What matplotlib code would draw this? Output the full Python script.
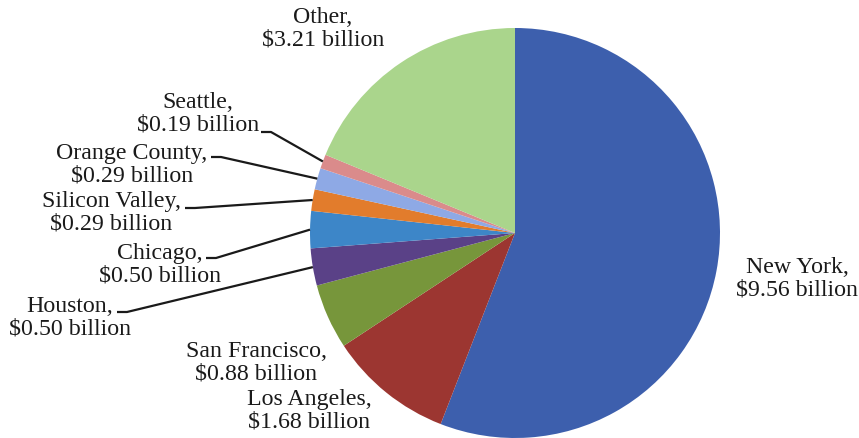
import numpy as np
import matplotlib
matplotlib.use('Agg')
import matplotlib.pyplot as plt

# data
cities = ['New York', 'Los Angeles', 'San Francisco', 'Houston', 'Chicago',
          'Silicon Valley', 'Orange County', 'Seattle', 'Other']
values = [9.56, 1.68, 0.88, 0.50, 0.50, 0.29, 0.29, 0.19, 3.21]
colors = ['#3D5FAD', '#9C3631', '#77963B', '#5A4187', '#3D86C8',
          '#E27C2C', '#8EA9E5', '#DA8B8B', '#AAD58C']

W, H = 859, 438
# label centres (pixel coords, y from top)
label_pos = {
    'New York': (797, 279),
    'Los Angeles': (309, 411),
    'San Francisco': (256, 363),
    'Houston': (70, 318),
    'Chicago': (160, 265),
    'Silicon Valley': (111, 213),
    'Orange County': (132, 165),
    'Seattle': (198, 114),
    'Other': (323, 29),
}
# where the leader line leaves the label (pixel coords, y from top)
leader_start = {
    'Seattle': (261, 132),
    'Orange County': (211, 157),
    'Silicon Valley': (185, 208),
    'Chicago': (206, 258),
    'Houston': (117, 312),
}

plt.rcParams['font.family'] = ['Liberation Serif', 'DejaVu Serif']

fig = plt.figure(figsize=(W / 100, H / 100), dpi=100)
ax = fig.add_axes([0, 0, 1, 1])
cx, cy, r = 515, H - 233, 205
wedges, _ = ax.pie(values, colors=colors, startangle=90, counterclock=False,
                   center=(cx, cy), radius=r, frame=True,
                   wedgeprops=dict(linewidth=0))
ax.set_xlim(0, W)
ax.set_ylim(0, H)
ax.set_aspect('equal')
ax.axis('off')

for name, v, w in zip(cities, values, wedges):
    x, y = label_pos[name]
    ax.text(x, H - y, f'{name},\n${v:.2f} billion', ha='center', va='center',
            fontsize=17.2, color='#1a1a1a', linespacing=1.08)
    if name in leader_start:
        sx, sy = leader_start[name]
        mid = np.deg2rad((w.theta1 + w.theta2) / 2)
        ex, ey = cx + r * np.cos(mid), cy + r * np.sin(mid)
        ax.plot([sx, sx + 10, ex], [H - sy, H - sy, ey], color='#1a1a1a',
                lw=1.6, solid_capstyle='butt')

fig.savefig('out.png', dpi=100)
